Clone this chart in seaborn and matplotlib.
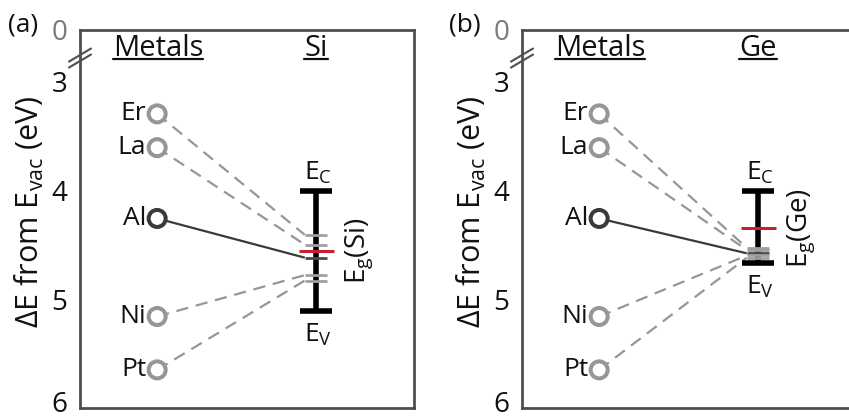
import matplotlib
matplotlib.use("Agg")
import matplotlib.pyplot as plt
import matplotlib.transforms as mtransforms
import pandas as pd
import seaborn as sns
from matplotlib.lines import Line2D

# ---- data -------------------------------------------------------------
metals = ["Er", "La", "Al", "Ni", "Pt"]
work_function = [3.30, 3.61, 4.26, 5.16, 5.65]      # eV below vacuum
pinned_si = [4.41, 4.50, 4.62, 4.78, 4.83]          # effective level on Si
pinned_ge = [4.53, 4.55, 4.58, 4.60, 4.62]          # effective level on Ge
semiconductors = ["Si", "Ge"]
conduction_edge = [4.01, 4.01]
valence_edge = [5.11, 4.67]
charge_neutral = [4.56, 4.35]
y_tick_values = [3, 4, 5, 6]
y_tick_labels = ["3", "4", "5", "6"]
panel_tags = ["(a)", "(b)"]

# ---- style ------------------------------------------------------------
sns.set_theme(style="white")
plt.rcParams["font.family"] = ["Open Sans", "DejaVu Sans"]
plt.rcParams["mathtext.fontset"] = "custom"
plt.rcParams["mathtext.rm"] = "Open Sans"
plt.rcParams["mathtext.it"] = "Open Sans:italic"
plt.rcParams["mathtext.bf"] = "Open Sans:bold"

LIGHT = "#969696"
DARK = "#3a3a3a"
RED = "#c8202f"
SPINE = "#4f4f4f"
INK = "#111111"
Y_TOP, Y_BOTTOM = 2.53, 6.0
X_METAL, X_BAR = 0.231, 0.707
TICK_HW, RED_HW, CAP_HW = 0.034, 0.052, 0.048

W, H = 849, 417
fig = plt.figure(figsize=(W / 100, H / 100), dpi=100)
axes = [fig.add_axes([80 / W, 9 / H, 334 / W, 378 / H]),
        fig.add_axes([522 / W, 9 / H, 334 / W, 378 / H])]

pinned_sets = [pinned_si, pinned_ge]
underlined = []

for i, ax in enumerate(axes):
    semi = semiconductors[i]
    pinned = pinned_sets[i]
    ax.set_xlim(0, 1)
    ax.set_ylim(Y_BOTTOM, Y_TOP)
    ax.set_xticks([])
    ax.set_yticks([Y_TOP] + y_tick_values)
    ax.set_yticklabels(["0"] + y_tick_labels, fontsize=20)
    ax.tick_params(axis="y", length=0, pad=9)
    labels = ax.get_yticklabels()
    labels[0].set_color("#7a7a7a")
    for tl in labels[1:]:
        tl.set_color(INK)
    # lift the lowest label so it stays inside the canvas
    labels[-1].set_transform(labels[-1].get_transform() +
                             mtransforms.ScaledTranslation(0, 7 / 100, fig.dpi_scale_trans))
    for side, sp in ax.spines.items():
        sp.set_color(SPINE)
        sp.set_linewidth(2.0)
    ax.spines["right"].set_visible(i == 0)

    # connecting lines metal -> pinned level
    for m, wf, p in zip(metals, work_function, pinned):
        is_al = m == "Al"
        ax.plot([X_METAL, X_BAR - TICK_HW], [wf, p],
                color=DARK if is_al else LIGHT, lw=1.6,
                dashes=(None, None) if is_al else (5.5, 3.5),
                solid_capstyle="butt", zorder=2)

    # metal circles
    df = pd.DataFrame({"x": [X_METAL] * len(metals), "wf": work_function,
                       "kind": ["Al" if m == "Al" else "other" for m in metals]})
    sns.scatterplot(data=df, x="x", y="wf", hue="kind",
                    palette={"Al": DARK, "other": LIGHT}, s=150,
                    linewidth=2.9, legend=False, ax=ax, zorder=4)
    coll = ax.collections[-1]
    coll.set_edgecolors(coll.get_facecolors())
    coll.set_facecolors("white")
    ax.set_xlabel("")
    ax.set_ylabel("")

    for m, wf in zip(metals, work_function):
        ax.text(X_METAL - 0.033, wf, m, ha="right", va="center",
                fontsize=19, color=INK)

    # band edges
    ec, ev = conduction_edge[i], valence_edge[i]
    ax.vlines(X_BAR, ec, ev, color="black", lw=4, zorder=3)
    ax.hlines([ec, ev], X_BAR - CAP_HW, X_BAR + CAP_HW, color="black",
              lw=4, zorder=3)
    for m, p in zip(metals, pinned):
        ax.hlines(p, X_BAR - TICK_HW, X_BAR + TICK_HW,
                  color="#4a4a4a" if m == "Al" else "#a0a0a0", lw=2.0, zorder=4)
    ax.hlines(charge_neutral[i], X_BAR - RED_HW, X_BAR + RED_HW,
              color=RED, lw=2.2, zorder=5)

    ax.text(X_BAR + 0.005, ec - 0.05, r"E$_\mathregular{C}$", ha="center",
            va="bottom", fontsize=19, color=INK)
    ax.text(X_BAR + 0.005, ev + 0.10, r"E$_\mathregular{V}$", ha="center",
            va="top", fontsize=19, color=INK)
    ax.text(X_BAR + 0.13, (ec + ev) / 2 if i == 0 else charge_neutral[i],
            r"E$_\mathregular{g}$(" + semi + ")", rotation=90,
            ha="center", va="center", fontsize=20, color=INK)

    # headings (underlined later)
    t1 = ax.text(X_METAL + 0.003, 2.765, "Metals", ha="center", va="baseline",
                 fontsize=21, color=INK)
    t2 = ax.text(X_BAR, 2.765, semi, ha="center", va="baseline",
                 fontsize=21, color=INK)
    underlined += [(ax, t1), (ax, t2)]

    # axis break marks on the left spine
    for dy in (0.0, 0.055):
        y0 = 2.76 + dy
        ax.plot([-0.033, 0.033], [y0 + 0.06, y0 - 0.06], color=SPINE,
                lw=1.5, clip_on=False, zorder=6)

    # y label and panel tag
    left_px = 80 if i == 0 else 522
    fig.text((left_px - 51) / W, 1 - 212 / H,
             r"ΔE from E$_\mathregular{vac}$ (eV)", rotation=90,
             ha="center", va="center", fontsize=22, color=INK)
    fig.text((left_px - 57) / W, 1 - 25 / H, panel_tags[i], ha="center",
             va="center", fontsize=19, color=INK)

# underline headings
fig.canvas.draw()
renderer = fig.canvas.get_renderer()
for ax, t in underlined:
    bb = t.get_window_extent(renderer)
    x, y = t.get_position()
    _, ybase = ax.transData.transform((x, y))
    yl = (ybase - 3.5) / fig.dpi / fig.get_figheight()
    fig.add_artist(Line2D([bb.x0 / W, bb.x1 / W], [yl, yl],
                          color=INK, lw=1.6))

fig.savefig("out.png", dpi=100)
